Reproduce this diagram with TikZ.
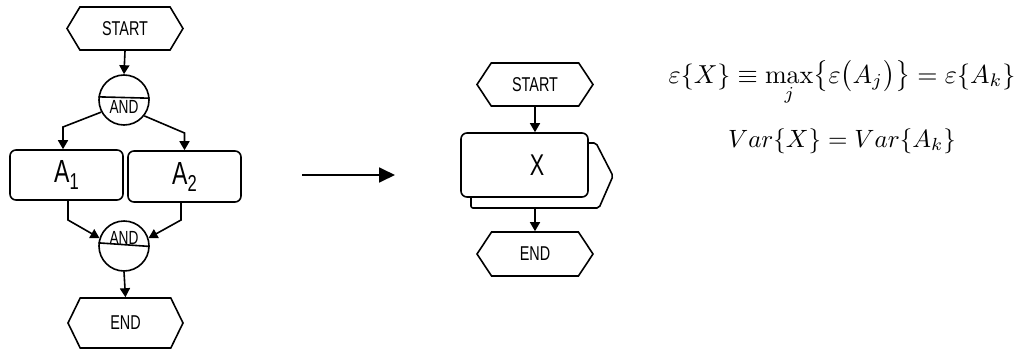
\documentclass[tikz,border=0pt]{standalone}
\usepackage{amsmath}
\usepackage{graphicx}
\usepackage{fontspec}
\newfontfamily\flow[FakeStretch=0.72]{Liberation Sans}
\usetikzlibrary{shapes.symbols,arrows.meta,calc}
\tikzset{
  hexa/.style={draw, shape=signal, signal to=west and east, inner sep=0pt,
    font=\flow\fontsize{20}{20}\selectfont},
  arr/.style={-{Triangle[length=9pt,width=10pt]}},
  boxa/.style={draw, rounded corners=6pt, inner sep=0pt,
    font=\flow\fontsize{32}{32}\selectfont},
  gate/.style={draw, circle, minimum size=50pt, inner sep=0pt},
  gatetxt/.style={font=\flow\fontsize{19}{19}\selectfont, inner sep=0pt},
  eq/.style={anchor=base, inner sep=0pt},
}
\begin{document}
\begin{tikzpicture}[x=1pt,y=-1pt,line width=1.6pt]
\useasboundingbox (0,0) rectangle (1019,356);
% ---- left flowchart
\node[hexa, signal pointer angle=118, minimum width=116pt, minimum height=43pt] (s1) at (125,28.5) {START};
\node[gate] (and1) at (124,100) {};
\draw (and1.173) -- (and1.4);
\node[gatetxt] (t1) at (124,107) {AND};
\node[boxa, minimum width=113pt, minimum height=50pt] (a1) at (66.5,175) {A\raisebox{-7pt}{\fontsize{23}{23}\selectfont 1}};
\node[boxa, minimum width=113pt, minimum height=51pt] (a2) at (184.5,176.5) {A\raisebox{-7pt}{\fontsize{23}{23}\selectfont 2}};
\node[gate] (and2) at (124,246) {};
\draw (and2.173) -- (and2.359);
\node[gatetxt] (t2) at (124,238) {AND};
\node[hexa, signal pointer angle=128, minimum width=115pt, minimum height=50pt] (e1) at (125.5,323) {END};
\coordinate (k1) at (63,127);
\coordinate (k2) at (184.5,133);
\coordinate (k3) at (68,220);
\coordinate (k4) at (181,220);
\draw[arr] (s1.south) -- (and1.north);
\draw[arr] (and1.208) -- (k1) -- (k1 |- a1.north);
\draw[arr] (and1.322) -- (k2) -- (a2.north);
\draw[arr] (k3 |- a1.south) -- (k3) -- (and2.162);
\draw[arr] (k4 |- a2.south) -- (k4) -- (and2.18);
\draw[arr] (and2.south) -- (e1.north);
% ---- big arrow
\coordinate (b1) at (302,175);
\coordinate (b2) at (395,175);
\draw[line width=1.8pt, -{Triangle[length=16pt,width=15pt]}] (b1) -- (b2);
% ---- middle flowchart
\node[hexa, signal pointer angle=113, minimum width=116pt, minimum height=43pt] (s2) at (535,84.5) {START};
\draw[rounded corners=2pt] (471,190) -- (471,208) -- (599,208) -- (613,176) -- (596,143) -- (580,143);
\node[boxa, fill=white, minimum width=127pt, minimum height=64pt] (xb) at (524.5,165) {};
\node[font=\flow\fontsize{30}{30}\selectfont, inner sep=0pt] (xl) at (537,165) {X};
\coordinate (xbot) at (535,208);
\node[hexa, signal pointer angle=113, minimum width=116pt, minimum height=44pt] (e2) at (535,254) {END};
\draw[arr] (s2.south) -- (s2.south |- xb.north);
\draw[arr] (xbot) -- (e2.north);
% ---- equations
\node[eq] (eq1) at (842,83) {\scalebox{2.6}{$\varepsilon\{X\}\equiv\max\limits_j\bigl\{\varepsilon\bigl(A_j\bigr)\bigr\}=\varepsilon\{A_k\}$}};
\node[eq] (eq2) at (842,147) {\scalebox{2.5}{$Var\{X\}=Var\{A_k\}$}};
\end{tikzpicture}
\end{document}
